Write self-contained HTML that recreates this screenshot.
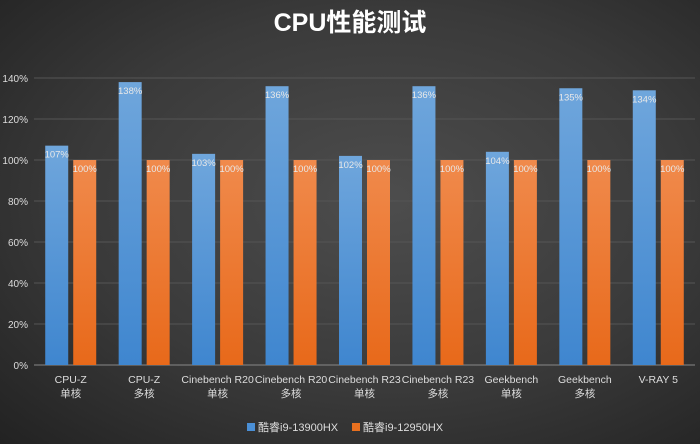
<!DOCTYPE html>
<html><head><meta charset="utf-8"><style>
body{margin:0;width:700px;height:444px;overflow:hidden;background:radial-gradient(ellipse at 55% 45%,#4d4d4d 0%,#3a3a3a 55%,#222 100%);font-family:"Liberation Sans","Noto Sans CJK SC",sans-serif;}
</style></head><body>
<svg id="c" width="700" height="444" style="position:absolute;left:0;top:0">
<text x="350" y="31" text-anchor="middle" fill="#fff" font-size="25" font-weight="bold" font-family="Liberation Sans,Noto Sans CJK SC,sans-serif">CPU性能测试</text>
</svg>
<script>
const categories=["CPU-Z|单核","CPU-Z|多核","Cinebench R20|单核","Cinebench R20|多核","Cinebench R23|单核","Cinebench R23|多核","Geekbench|单核","Geekbench|多核","V-RAY 5|"];
const seriesA=[107,138,103,136,102,136,104,135,134];
const seriesB=[100,100,100,100,100,100,100,100,100];
const ticks=[0,20,40,60,80,100,120,140];
const svg=document.getElementById('c');const NS='http://www.w3.org/2000/svg';
const x0=34,x1=695,y0=365,y140=78;
const y=v=>y0-(v/140)*(y0-y140);
const bw=(x1-x0)/categories.length;
function mk(t,a,p){const e=document.createElementNS(NS,t);for(const k in a)e.setAttribute(k,a[k]);(p||svg).appendChild(e);return e;}
const defs=mk('defs',{});
const gA=mk('linearGradient',{id:'ga',x1:0,y1:0,x2:0,y2:1},defs);mk('stop',{offset:0,'stop-color':'#6fa6dc'},gA);mk('stop',{offset:1,'stop-color':'#3f86cf'},gA);
const gB=mk('linearGradient',{id:'gb',x1:0,y1:0,x2:0,y2:1},defs);mk('stop',{offset:0,'stop-color':'#f08a4c'},gB);mk('stop',{offset:1,'stop-color':'#e8691a'},gB);
ticks.forEach(t=>{
 const l=mk('line',{x1:x0,x2:x1,y1:y(t),y2:y(t),stroke:t===0?'#888':'#555','stroke-width':1});
 
 const tx=mk('text',{x:28,y:y(t)+4,'text-anchor':'end',fill:'#ddd','font-size':10});tx.textContent=t+'%';
 
});
categories.forEach((c,i)=>{
 const cx=x0+bw*(i+0.5);
 [[seriesA[i],cx-25.5,'url(#ga)'],[seriesB[i],cx+2.5,'url(#gb)']].forEach(([v,bx,f],j)=>{
  const r=mk('rect',{x:bx,y:y(v),width:23,height:y0-y(v),fill:f});
  
  const t=mk('text',{x:bx+11.5,y:y(v)+12,'text-anchor':'middle',fill:'#e8e8e8','font-size':9.5});t.textContent=v+'%';
  
 });
 c.split('|').forEach((s,k)=>{if(!s)return;
  const t=mk('text',{x:cx,y:383+k*14,'text-anchor':'middle',fill:'#ddd','font-size':10.5});t.textContent=s;
  });
});
[["酷睿i9-13900HX",247,'#4a8fd6'],["酷睿i9-12950HX",352,'#e8701f']].forEach(([n,lx,col])=>{
 const r=mk('rect',{x:lx,y:423,width:8,height:8,fill:col});
 const t=mk('text',{x:lx+11,y:431,fill:'#ddd','font-size':11});t.textContent=n;
 
});
</script>
</body></html>
